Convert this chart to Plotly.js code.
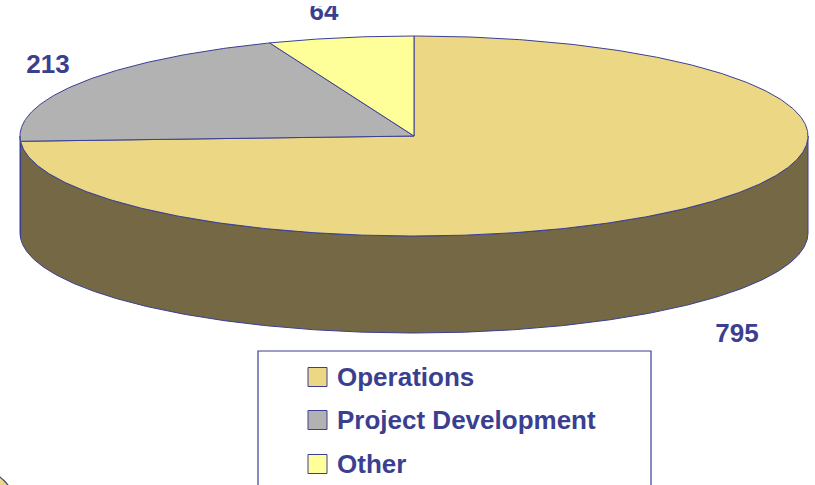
<!DOCTYPE html>
<html>
<head>
<meta charset="utf-8">
<script src="https://cdn.plot.ly/plotly-3.0.1.min.js"></script>
<style>
  html, body { margin: 0; padding: 0; background: #ffffff; }
  #chart { width: 815px; height: 485px; }
</style>
</head>
<body>
<div id="chart"></div>
<script>
// ---- data ----
const categories = ['Operations', 'Project Development', 'Other'];
const values = [795, 213, 64];
const labelText = ['795', '213', '64'];

// ---- styles ----
const topColors = ['#EBD784', '#B2B2B2', '#FFFF99'];
const sideColors = ['#746944', '#5E5E5E', '#88884F'];
const edgeColor = '#3A3F94';
const textColor = '#3B3F8F';

// ---- 3-D pie geometry (plot units = pixels) ----
const CX = 414, CY = 136, RX = 394, RY = 100, DEPTH = 97;
// label anchor positions (layout, not data)
const labelX = [737, 48, 324];
const labelY = [335, 66, 13];

function pt(deg, dy) {
  const t = deg * Math.PI / 180;
  return [CX + RX * Math.sin(t), CY - RY * Math.cos(t) + dy];
}
function arc(a0, a1, dy) {
  const out = [];
  const n = Math.max(2, Math.ceil(Math.abs(a1 - a0) / 0.5));
  for (let i = 0; i <= n; i++) out.push(pt(a0 + (a1 - a0) * i / n, dy));
  return out;
}

const total = values.reduce((a, b) => a + b, 0);
const starts = [], ends = [];
let acc = 0;
values.forEach(v => {
  starts.push(acc / total * 360);
  acc += v;
  ends.push(acc / total * 360);
});

const traces = [];
// side walls (front half only: 90..270 deg)
values.forEach((v, i) => {
  const a0 = Math.max(starts[i], 90), a1 = Math.min(ends[i], 270);
  if (a1 <= a0) return;
  const pts = arc(a0, a1, 0).concat(arc(a1, a0, DEPTH));
  pts.push(pts[0]);
  traces.push({
    type: 'scatter', mode: 'lines', fill: 'toself',
    x: pts.map(p => p[0]), y: pts.map(p => p[1]),
    fillcolor: sideColors[i], line: { color: edgeColor, width: 1 },
    hoverinfo: 'skip', showlegend: false, name: categories[i] + ' side'
  });
});
// top faces
values.forEach((v, i) => {
  const pts = [[CX, CY]].concat(arc(starts[i], ends[i], 0));
  pts.push([CX, CY]);
  traces.push({
    type: 'scatter', mode: 'lines', fill: 'toself',
    x: pts.map(p => p[0]), y: pts.map(p => p[1]),
    fillcolor: topColors[i], line: { color: edgeColor, width: 1 },
    hoverinfo: 'text', text: categories[i] + ': ' + v, showlegend: false, name: categories[i]
  });
});
// value labels
traces.push({
  type: 'scatter', mode: 'text',
  x: labelX, y: labelY, text: labelText,
  textposition: 'middle center',
  textfont: { family: 'Liberation Sans, Arial, sans-serif', size: 26, color: textColor, weight: 'bold' },
  hoverinfo: 'skip', showlegend: false
});

// ---- manual legend ----
const legX0 = 258, legY0 = 351, legX1 = 651;
const rowY = [377, 420, 464];
const shapes = [
  // white strip cropping the top of the chart
  { type: 'rect', xref: 'x', yref: 'y', x0: 200, x1: 500, y0: -5, y1: 6, layer: 'above',
    fillcolor: '#ffffff', line: { width: 0 } },
  // legend frame (bottom cut off by page edge)
  { type: 'rect', xref: 'x', yref: 'y', x0: legX0, x1: legX1, y0: legY0, y1: 520,
    fillcolor: '#ffffff', line: { color: edgeColor, width: 1.2 } },
  // neighbouring chart peeking in at bottom-left
  { type: 'circle', xref: 'x', yref: 'y', x0: -81.4, x1: 18.6, y0: 465.9, y1: 565.9,
    fillcolor: '#EBD784', line: { color: edgeColor, width: 1.2 } }
];
const annotations = [];
categories.forEach((c, i) => {
  shapes.push({ type: 'rect', xref: 'x', yref: 'y', x0: 308, x1: 327, y0: rowY[i] - 9.5, y1: rowY[i] + 9.5,
    fillcolor: topColors[i], line: { color: edgeColor, width: 1 } });
  annotations.push({ xref: 'x', yref: 'y', x: 335, y: rowY[i], text: c, showarrow: false,
    xanchor: 'left', yanchor: 'middle',
    font: { family: 'Liberation Sans, Arial, sans-serif', size: 26, color: textColor, weight: 'bold' } });
});

const layout = {
  width: 815, height: 485,
  margin: { l: 0, r: 0, t: 0, b: 0, pad: 0 },
  paper_bgcolor: '#ffffff', plot_bgcolor: '#ffffff',
  xaxis: { range: [0, 815], visible: false, fixedrange: true },
  yaxis: { range: [485, 0], visible: false, fixedrange: true },
  showlegend: false,
  shapes: shapes,
  annotations: annotations
};

Plotly.newPlot('chart', traces, layout, { displayModeBar: false, staticPlot: true });
</script>
</body>
</html>
